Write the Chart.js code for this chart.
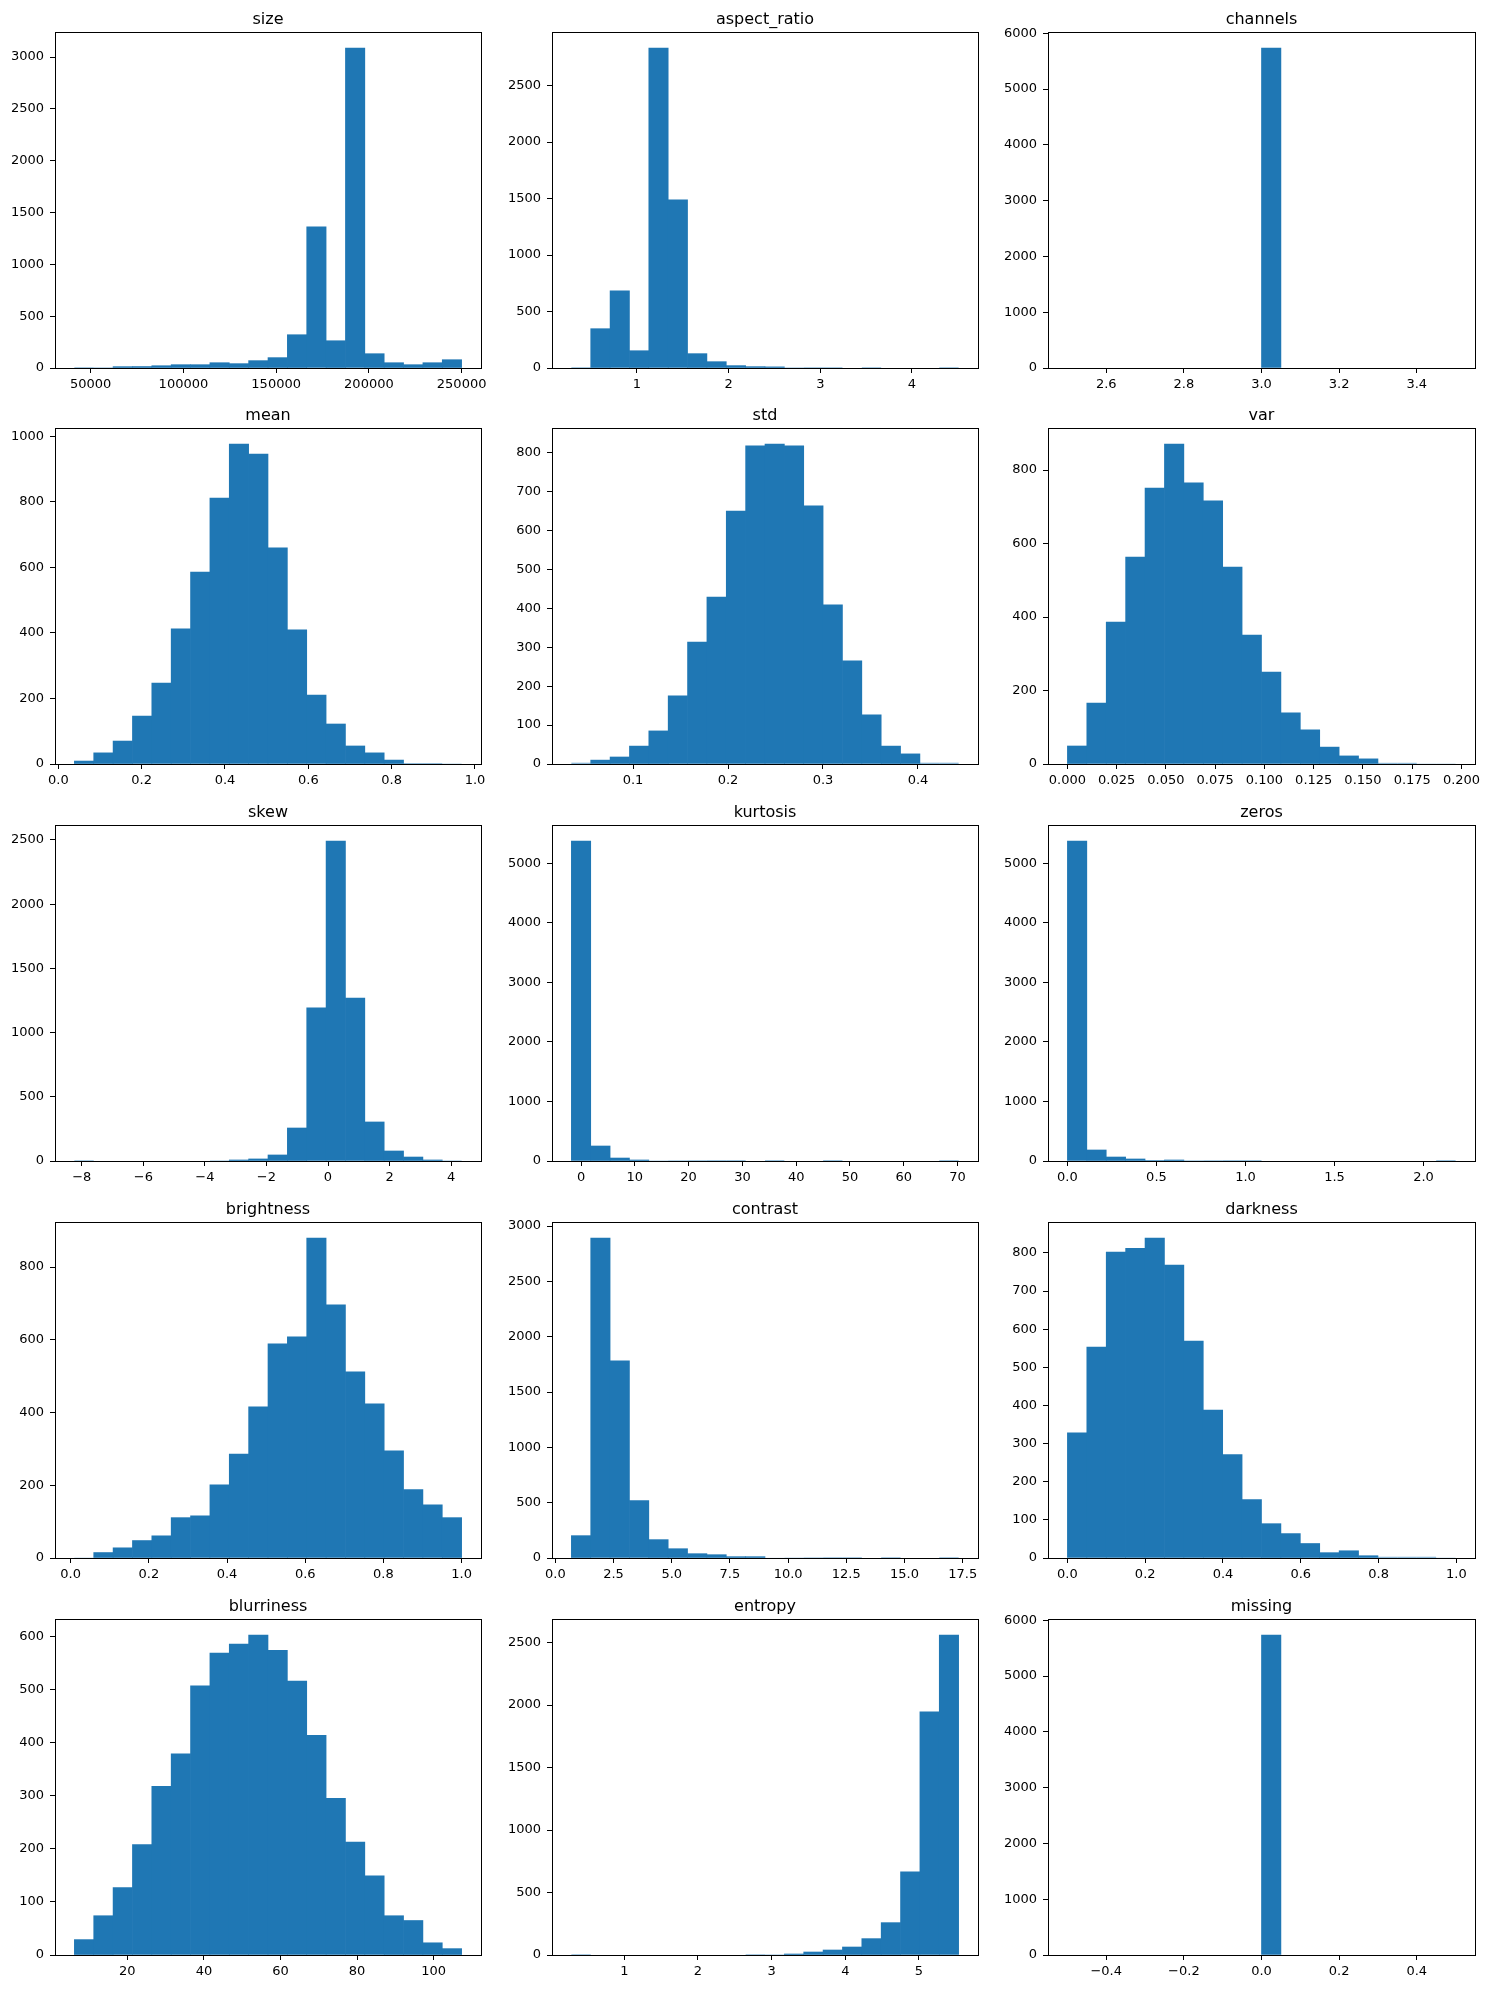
<!DOCTYPE html>
<html>
<head>
<meta charset="utf-8">
<script src="https://cdn.jsdelivr.net/npm/chart.js@4.4.1/dist/chart.umd.min.js"></script>
<style>
  body { margin: 0; background: #fff; width: 1491px; height: 1989px; position: relative; overflow: hidden; }
  canvas { position: absolute; }
</style>
</head>
<body>
<script>
// Histogrammes (20 classes chacun) : intervalle [min, max] des classes et effectifs
const sizeBins = [41200, 250000];
const sizeCounts = [1, 2, 13, 14, 22, 32, 32, 51, 42, 71, 100, 321, 1362, 263, 3087, 138, 51, 32, 51, 80];
const sizeXTicks = [50000, 100000, 150000, 200000, 250000];
const sizeXLabels = ['50000', '100000', '150000', '200000', '250000'];
const sizeYTicks = [0, 500, 1000, 1500, 2000, 2500, 3000];

const aspectBins = [0.284, 4.509];
const aspectCounts = [1, 348, 684, 153, 2833, 1489, 127, 56, 21, 12, 10, 2, 1, 1, 0, 1, 0, 0, 0, 1];
const aspectXTicks = [1, 2, 3, 4];
const aspectXLabels = ['1', '2', '3', '4'];
const aspectYTicks = [0, 500, 1000, 1500, 2000, 2500];

const channelsBins = [2.5, 3.5];
const channelsCounts = [0, 0, 0, 0, 0, 0, 0, 0, 0, 0, 5735, 0, 0, 0, 0, 0, 0, 0, 0, 0];
const channelsXTicks = [2.6, 2.8, 3.0, 3.2, 3.4];
const channelsXLabels = ['2.6', '2.8', '3.0', '3.2', '3.4'];
const channelsYTicks = [0, 1000, 2000, 3000, 4000, 5000, 6000];

const meanBins = [0.0385, 0.968];
const meanCounts = [9, 34, 70, 146, 247, 412, 585, 811, 976, 945, 659, 409, 210, 122, 55, 34, 12, 3, 3, 1];
const meanXTicks = [0, 0.2, 0.4, 0.6, 0.8, 1.0];
const meanXLabels = ['0.0', '0.2', '0.4', '0.6', '0.8', '1.0'];
const meanYTicks = [0, 200, 400, 600, 800, 1000];

const stdBins = [0.0351, 0.4428];
const stdCounts = [3, 10, 18, 46, 85, 175, 313, 429, 650, 817, 822, 817, 663, 409, 265, 126, 46, 26, 3, 3];
const stdXTicks = [0.1, 0.2, 0.3, 0.4];
const stdXLabels = ['0.1', '0.2', '0.3', '0.4'];
const stdYTicks = [0, 100, 200, 300, 400, 500, 600, 700, 800];

const varBins = [0.0, 0.197];
const varCounts = [49, 166, 386, 563, 751, 871, 765, 716, 536, 351, 250, 139, 93, 46, 22, 14, 3, 3, 1, 1];
const varXTicks = [0, 0.025, 0.05, 0.075, 0.1, 0.125, 0.15, 0.175, 0.2];
const varXLabels = ['0.000', '0.025', '0.050', '0.075', '0.100', '0.125', '0.150', '0.175', '0.200'];
const varYTicks = [0, 200, 400, 600, 800];

const skewBins = [-8.241, 4.342];
const skewCounts = [1, 0, 0, 0, 0, 0, 0, 2, 8, 16, 47, 257, 1192, 2492, 1269, 304, 78, 31, 8, 2];
const skewXTicks = [-8, -6, -4, -2, 0, 2, 4];
const skewXLabels = ['−8', '−6', '−4', '−2', '0', '2', '4'];
const skewYTicks = [0, 500, 1000, 1500, 2000, 2500];

const kurtosisBins = [-1.8, 70.2];
const kurtosisCounts = [5375, 252, 50, 17, 5, 3, 2, 1, 1, 0, 1, 0, 0, 1, 0, 0, 0, 0, 0, 1];
const kurtosisXTicks = [0, 10, 20, 30, 40, 50, 60, 70];
const kurtosisXLabels = ['0', '10', '20', '30', '40', '50', '60', '70'];
const kurtosisYTicks = [0, 1000, 2000, 3000, 4000, 5000];

const zerosBins = [0, 2.18];
const zerosCounts = [5375, 185, 67, 34, 8, 17, 3, 2, 1, 1, 0, 0, 0, 0, 0, 0, 0, 0, 0, 1];
const zerosXTicks = [0, 0.5, 1.0, 1.5, 2.0];
const zerosXLabels = ['0.0', '0.5', '1.0', '1.5', '2.0'];
const zerosYTicks = [0, 1000, 2000, 3000, 4000, 5000];

const brightnessBins = [0.0095, 1.0];
const brightnessCounts = [1, 15, 28, 48, 61, 111, 116, 201, 286, 416, 589, 608, 880, 696, 512, 424, 295, 188, 146, 111];
const brightnessXTicks = [0, 0.2, 0.4, 0.6, 0.8, 1.0];
const brightnessXLabels = ['0.0', '0.2', '0.4', '0.6', '0.8', '1.0'];
const brightnessYTicks = [0, 200, 400, 600, 800];

const contrastBins = [0.689, 17.326];
const contrastCounts = [202, 2892, 1781, 518, 166, 84, 39, 30, 12, 12, 4, 3, 2, 1, 1, 0, 1, 0, 0, 1];
const contrastXTicks = [0, 2.5, 5, 7.5, 10, 12.5, 15, 17.5];
const contrastXLabels = ['0.0', '2.5', '5.0', '7.5', '10.0', '12.5', '15.0', '17.5'];
const contrastYTicks = [0, 500, 1000, 1500, 2000, 2500, 3000];

const darknessBins = [0.0, 0.998];
const darknessCounts = [328, 553, 802, 812, 839, 768, 569, 388, 271, 153, 90, 64, 38, 14, 19, 6, 3, 3, 3, 1];
const darknessXTicks = [0, 0.2, 0.4, 0.6, 0.8, 1.0];
const darknessXLabels = ['0.0', '0.2', '0.4', '0.6', '0.8', '1.0'];
const darknessYTicks = [0, 100, 200, 300, 400, 500, 600, 700, 800];

const blurBins = [6.17, 107.3];
const blurCounts = [29, 74, 127, 208, 318, 379, 507, 569, 586, 603, 574, 516, 414, 295, 213, 149, 74, 65, 23, 12];
const blurXTicks = [20, 40, 60, 80, 100];
const blurXLabels = ['20', '40', '60', '80', '100'];
const blurYTicks = [0, 100, 200, 300, 400, 500, 600];

const entropyBins = [0.282, 5.538];
const entropyCounts = [1, 0, 0, 0, 0, 0, 0, 0, 0, 1, 2, 8, 24, 40, 64, 131, 259, 666, 1946, 2561];
const entropyXTicks = [1, 2, 3, 4, 5];
const entropyXLabels = ['1', '2', '3', '4', '5'];
const entropyYTicks = [0, 500, 1000, 1500, 2000, 2500];

const missingBins = [-0.5, 0.5];
const missingCounts = [0, 0, 0, 0, 0, 0, 0, 0, 0, 0, 5735, 0, 0, 0, 0, 0, 0, 0, 0, 0];
const missingXTicks = [-0.4, -0.2, 0, 0.2, 0.4];
const missingXLabels = ['−0.4', '−0.2', '0.0', '0.2', '0.4'];
const missingYTicks = [0, 1000, 2000, 3000, 4000, 5000, 6000];

// Ordre des sous-graphiques (5 lignes x 3 colonnes)
const panels = [
  { title: 'size', bins: sizeBins, counts: sizeCounts, xTicks: sizeXTicks, xLabels: sizeXLabels, yTicks: sizeYTicks },
  { title: 'aspect_ratio', bins: aspectBins, counts: aspectCounts, xTicks: aspectXTicks, xLabels: aspectXLabels, yTicks: aspectYTicks },
  { title: 'channels', bins: channelsBins, counts: channelsCounts, xTicks: channelsXTicks, xLabels: channelsXLabels, yTicks: channelsYTicks },
  { title: 'mean', bins: meanBins, counts: meanCounts, xTicks: meanXTicks, xLabels: meanXLabels, yTicks: meanYTicks },
  { title: 'std', bins: stdBins, counts: stdCounts, xTicks: stdXTicks, xLabels: stdXLabels, yTicks: stdYTicks },
  { title: 'var', bins: varBins, counts: varCounts, xTicks: varXTicks, xLabels: varXLabels, yTicks: varYTicks },
  { title: 'skew', bins: skewBins, counts: skewCounts, xTicks: skewXTicks, xLabels: skewXLabels, yTicks: skewYTicks },
  { title: 'kurtosis', bins: kurtosisBins, counts: kurtosisCounts, xTicks: kurtosisXTicks, xLabels: kurtosisXLabels, yTicks: kurtosisYTicks },
  { title: 'zeros', bins: zerosBins, counts: zerosCounts, xTicks: zerosXTicks, xLabels: zerosXLabels, yTicks: zerosYTicks },
  { title: 'brightness', bins: brightnessBins, counts: brightnessCounts, xTicks: brightnessXTicks, xLabels: brightnessXLabels, yTicks: brightnessYTicks },
  { title: 'contrast', bins: contrastBins, counts: contrastCounts, xTicks: contrastXTicks, xLabels: contrastXLabels, yTicks: contrastYTicks },
  { title: 'darkness', bins: darknessBins, counts: darknessCounts, xTicks: darknessXTicks, xLabels: darknessXLabels, yTicks: darknessYTicks },
  { title: 'blurriness', bins: blurBins, counts: blurCounts, xTicks: blurXTicks, xLabels: blurXLabels, yTicks: blurYTicks },
  { title: 'entropy', bins: entropyBins, counts: entropyCounts, xTicks: entropyXTicks, xLabels: entropyXLabels, yTicks: entropyYTicks },
  { title: 'missing', bins: missingBins, counts: missingCounts, xTicks: missingXTicks, xLabels: missingXLabels, yTicks: missingYTicks }
];

// Mise en page : position des canvases (cadre des axes = canvas + 55 px à gauche, + 32 px en haut)
const colLeft = [0, 497, 993];
const colAxisWidth = [426, 426, 427];
const rowTop = [0, 396, 793, 1190, 1587];
const yAxisWidth = 55;
const titleSpace = 32;
const axisHeight = 336;
const xAxisHeight = 32;
const rightPad = 12;

const BAR_COLOR = '#1f77b4';
const FONT = 'DejaVu Sans';

// Plugin : cadre noir complet autour des axes + titre façon matplotlib
const framePlugin = {
  id: 'frame',
  afterDraw(chart, args, opts) {
    const { ctx, chartArea: a } = chart;
    ctx.save();
    ctx.strokeStyle = '#000';
    ctx.lineWidth = 1;
    ctx.strokeRect(a.left + 0.5, a.top + 0.5, a.right - a.left, a.bottom - a.top);
    ctx.fillStyle = '#000';
    ctx.font = '16px "' + FONT + '"';
    ctx.textAlign = 'center';
    ctx.textBaseline = 'alphabetic';
    ctx.fillText(opts.text, (a.left + a.right) / 2, a.top - 8);
    ctx.restore();
  }
};

function tickGrid() {
  return { drawOnChartArea: false, drawTicks: true, tickLength: 5, tickColor: '#000', tickWidth: 1, offset: false };
}

panels.forEach((p, idx) => {
  const row = Math.floor(idx / 3);
  const col = idx % 3;

  const canvas = document.createElement('canvas');
  const w = yAxisWidth + colAxisWidth[col] + rightPad;
  const h = titleSpace + axisHeight + xAxisHeight;
  canvas.width = w;
  canvas.height = h;
  canvas.style.left = colLeft[col] + 'px';
  canvas.style.top = rowTop[row] + 'px';
  canvas.style.width = w + 'px';
  canvas.style.height = h + 'px';
  document.body.appendChild(canvas);

  // Centres des classes et limites façon matplotlib (marge de 5 %)
  const lo = p.bins[0], hi = p.bins[1];
  const binW = (hi - lo) / p.counts.length;
  const points = p.counts.map((c, i) => ({ x: lo + (i + 0.5) * binW, y: c }));
  const xMin = lo - 0.05 * (hi - lo);
  const xMax = hi + 0.05 * (hi - lo);
  const yMax = Math.max(...p.counts) * 1.05;

  new Chart(canvas.getContext('2d'), {
    type: 'bar',
    data: {
      datasets: [{
        data: points,
        // classes vides : rien à dessiner (pas de liseré sur l'axe)
        backgroundColor: (ctx) => (ctx.raw && ctx.raw.y > 0 ? BAR_COLOR : 'rgba(0,0,0,0)'),
        // pas d'élargissement pour les toutes petites classes (quasi invisibles dans l'original)
        inflateAmount: (ctx) => (ctx.raw && ctx.raw.y > 5 ? 0.33 : 0),
        borderWidth: 0,
        barPercentage: 1,
        categoryPercentage: 1
      }]
    },
    options: {
      responsive: false,
      animation: false,
      devicePixelRatio: 1,
      layout: { padding: { top: titleSpace, right: rightPad, left: 0, bottom: 0 } },
      plugins: {
        legend: { display: false },
        tooltip: { enabled: false },
        frame: { text: p.title }
      },
      scales: {
        x: {
          type: 'linear',
          min: xMin,
          max: xMax,
          offset: false,
          grid: tickGrid(),
          border: { display: false },
          ticks: {
            autoSkip: false,
            maxRotation: 0,
            minRotation: 0,
            padding: 4,
            color: '#000',
            font: { family: FONT, size: 13 },
            callback: (v, i) => p.xLabels[i]
          },
          afterBuildTicks: (axis) => { axis.ticks = p.xTicks.map(v => ({ value: v })); },
          afterFit: (axis) => { axis.height = xAxisHeight; }
        },
        y: {
          type: 'linear',
          min: 0,
          max: yMax,
          grid: tickGrid(),
          border: { display: false },
          ticks: {
            autoSkip: false,
            padding: 6,
            color: '#000',
            font: { family: FONT, size: 13 },
            callback: (v, i) => String(p.yTicks[i])
          },
          afterBuildTicks: (axis) => { axis.ticks = p.yTicks.map(v => ({ value: v })); },
          afterFit: (axis) => { axis.width = yAxisWidth; }
        }
      }
    },
    plugins: [framePlugin]
  });
});
</script>
</body>
</html>
